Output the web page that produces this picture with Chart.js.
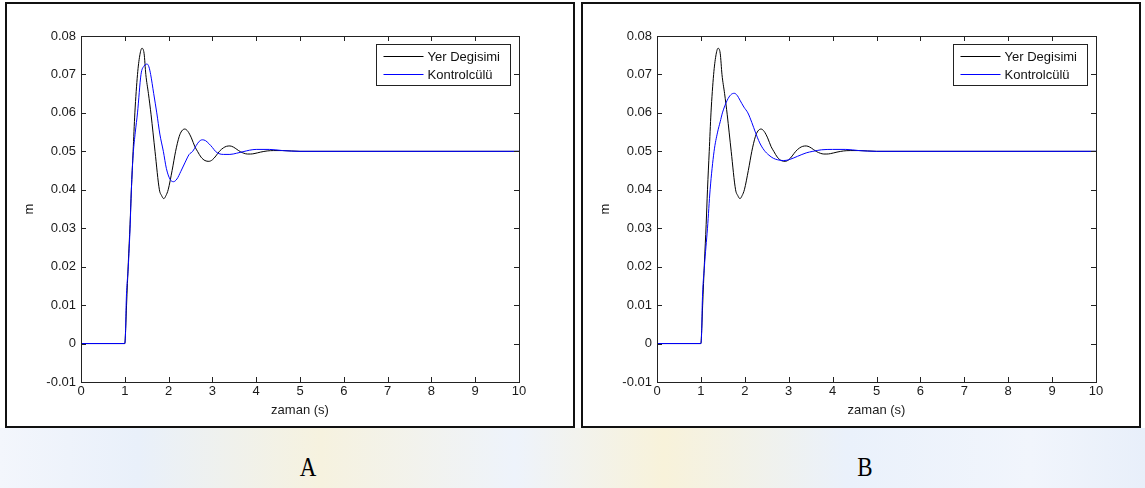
<!DOCTYPE html>
<html>
<head>
<meta charset="utf-8">
<script src="https://cdn.jsdelivr.net/npm/chart.js@4.4.0/dist/chart.umd.min.js"></script>
<style>
	html, body { margin: 0; padding: 0; }
	body {
		width: 1145px;
		height: 488px;
		position: relative;
		overflow: hidden;
		background: #ffffff;
	}
	#backdrop {
		position: absolute;
		left: 0; top: 428px; width: 1145px; height: 60px;
		background: linear-gradient(90deg, #f3f6fc 0%, #e9f0fa 12%, #f6f2df 28%, #eef3fb 45%, #f8f2da 58%, #eaf1fb 74%, #f1f5fc 90%, #e8effa 100%);
	}
	.panel {
		position: absolute;
		top: 2px;
		height: 426px;
		border: 2px solid #111;
		box-sizing: border-box;
		background: #fff;
	}
	#panel-a { left: 5px; width: 570px; }
	#panel-b { left: 581px; width: 560px; }
	.panel .wrap { position: relative; width: 100%; height: 100%; }
	.caption {
		position: absolute;
		top: 451px;
		width: 60px;
		text-align: center;
		font-family: 'Liberation Serif', 'DejaVu Serif', serif;
		font-size: 28px;
		color: #000;
		transform: scaleX(0.82);
	}
	#cap-a { left: 278px; }
	#cap-b { left: 835px; }
</style>
</head>
<body>
<div id="backdrop"></div>
<div class="panel" id="panel-a"><div class="wrap"><canvas id="chart-a"></canvas></div></div>
<div class="panel" id="panel-b"><div class="wrap"><canvas id="chart-b"></canvas></div></div>
<div class="caption" id="cap-a">A</div>
<div class="caption" id="cap-b">B</div>
<script>
// zaman (s) / m
var yerTimes = [0, 1.0, 1.02, 1.04, 1.08, 1.12, 1.15, 1.19, 1.23, 1.29, 1.34, 1.39, 1.44, 1.48, 1.54, 1.60, 1.69, 1.79, 1.84, 1.89, 1.94, 1.99, 2.08, 2.16, 2.24, 2.30, 2.37, 2.44, 2.52, 2.60, 2.66, 2.74, 2.83, 2.92, 3.0, 3.08, 3.16, 3.25, 3.32, 3.40, 3.48, 3.56, 3.64, 3.72, 3.80, 3.87, 3.95, 4.1, 4.25, 4.4, 4.6, 5.0, 10];
var yerValues = [0, 0, 0.004, 0.010, 0.021, 0.031, 0.040, 0.050, 0.060, 0.070, 0.0748, 0.0768, 0.0755, 0.070, 0.065, 0.0595, 0.050, 0.040, 0.0385, 0.0377, 0.0385, 0.040, 0.045, 0.050, 0.0538, 0.0553, 0.0558, 0.0552, 0.0535, 0.0512, 0.050, 0.0485, 0.0476, 0.0474, 0.0478, 0.0488, 0.0500, 0.0509, 0.0513, 0.0514, 0.0511, 0.0505, 0.0499, 0.0495, 0.0493, 0.0493, 0.0494, 0.0498, 0.0501, 0.0502, 0.0502, 0.0500, 0.0500];

var kontrolTimesA = [0, 1.0, 1.02, 1.03, 1.08, 1.12, 1.15, 1.19, 1.24, 1.29, 1.37, 1.44, 1.51, 1.55, 1.59, 1.66, 1.73, 1.80, 1.88, 1.95, 2.03, 2.11, 2.19, 2.28, 2.38, 2.47, 2.55, 2.63, 2.70, 2.77, 2.84, 2.92, 3.0, 3.07, 3.15, 3.25, 3.40, 3.55, 3.70, 3.85, 4.0, 4.3, 4.6, 5.0, 10];
var kontrolValuesA = [0, 0, 0.004, 0.010, 0.020, 0.030, 0.040, 0.049, 0.055, 0.060, 0.070, 0.0722, 0.0727, 0.0720, 0.070, 0.065, 0.060, 0.0545, 0.050, 0.0455, 0.0428, 0.0421, 0.0428, 0.0448, 0.0472, 0.0492, 0.050, 0.0515, 0.0526, 0.0530, 0.0528, 0.0520, 0.0510, 0.0500, 0.0494, 0.0492, 0.0492, 0.0495, 0.0499, 0.0503, 0.0505, 0.0505, 0.0502, 0.0500, 0.0500];

var kontrolTimesB = [0, 1.0, 1.02, 1.03, 1.08, 1.15, 1.21, 1.30, 1.38, 1.44, 1.49, 1.60, 1.68, 1.76, 1.83, 1.89, 1.98, 2.07, 2.16, 2.24, 2.34, 2.44, 2.55, 2.65, 2.75, 2.88, 3.0, 3.2, 3.4, 3.55, 3.75, 4.0, 4.3, 4.6, 5.0, 10];
var kontrolValuesB = [0, 0, 0.004, 0.010, 0.020, 0.030, 0.040, 0.050, 0.055, 0.0577, 0.060, 0.0633, 0.0647, 0.0651, 0.0645, 0.0633, 0.0615, 0.060, 0.0575, 0.055, 0.0522, 0.0503, 0.0490, 0.0482, 0.0478, 0.0476, 0.0478, 0.0487, 0.0496, 0.0500, 0.0504, 0.0505, 0.0505, 0.0502, 0.0500, 0.0500];

var seriesNames = ['Yer Degisimi', 'Kontrolcülü'];
var seriesColors = ['#000000', '#0000ff'];
var xTicks = [0, 1, 2, 3, 4, 5, 6, 7, 8, 9, 10];
var yTicks = [-0.01, 0, 0.01, 0.02, 0.03, 0.04, 0.05, 0.06, 0.07, 0.08];
var xTitle = 'zaman (s)';
var yTitle = 'm';

var fontFamily = "'Liberation Sans', Arial, Helvetica, sans-serif";
var fontSize = 13;

function toPoints(times, values) {
	return times.map(function(t, i) { return { x: t, y: values[i] }; });
}

// matlab style box, inward ticks and legend inside the axes
var matlabBox = {
	id: 'matlabBox',
	afterDraw: function(chart) {
		var ctx = chart.ctx;
		var a = chart.chartArea;
		var xs = chart.scales.x;
		var ys = chart.scales.y;
		var tl = 5;
		ctx.save();
		ctx.strokeStyle = '#222';
		ctx.lineWidth = 1;
		ctx.strokeRect(Math.round(a.left) + 0.5, Math.round(a.top) + 0.5, Math.round(a.right - a.left), Math.round(a.bottom - a.top));
		ctx.beginPath();
		xTicks.forEach(function(v) {
			var px = Math.round(xs.getPixelForValue(v)) + 0.5;
			ctx.moveTo(px, a.bottom); ctx.lineTo(px, a.bottom - tl);
			ctx.moveTo(px, a.top); ctx.lineTo(px, a.top + tl);
		});
		yTicks.forEach(function(v) {
			var py = Math.round(ys.getPixelForValue(v)) + 0.5;
			ctx.moveTo(a.left, py); ctx.lineTo(a.left + tl, py);
			ctx.moveTo(a.right, py); ctx.lineTo(a.right - tl, py);
		});
		ctx.stroke();

		// legend
		var w = 134, h = 41;
		var lx = Math.round(a.right - 9 - w) + 0.5;
		var ly = Math.round(a.top + 8) + 0.5;
		ctx.fillStyle = '#fff';
		ctx.fillRect(lx, ly, w, h);
		ctx.strokeStyle = '#222';
		ctx.strokeRect(lx, ly, w, h);
		ctx.font = fontSize + 'px ' + fontFamily;
		ctx.textBaseline = 'middle';
		ctx.textAlign = 'left';
		chart.data.datasets.forEach(function(ds, i) {
			var ry = Math.round(ly + 11 + i * 18.5) + 0.5;
			ctx.strokeStyle = ds.borderColor;
			ctx.beginPath();
			ctx.moveTo(lx + 7, ry);
			ctx.lineTo(lx + 47, ry);
			ctx.stroke();
			ctx.fillStyle = '#111';
			ctx.fillText(ds.label, lx + 51, ry + 1);
		});
		ctx.restore();
	}
};

function makeConfig(kTimes, kValues, rightPad) {
	return {
		type: 'line',
		data: {
			datasets: [
				{
					label: seriesNames[0],
					data: toPoints(yerTimes, yerValues),
					borderColor: seriesColors[0],
					borderWidth: 1,
					pointRadius: 0,
					cubicInterpolationMode: 'monotone',
					order: 2
				},
				{
					label: seriesNames[1],
					data: toPoints(kTimes, kValues),
					borderColor: seriesColors[1],
					borderWidth: 1,
					pointRadius: 0,
					cubicInterpolationMode: 'monotone',
					order: 1
				}
			]
		},
		options: {
			responsive: true,
			maintainAspectRatio: false,
			animation: false,
			events: [],
			layout: { padding: { top: 32, right: rightPad, left: 0, bottom: 0 } },
			plugins: {
				legend: { display: false },
				tooltip: { enabled: false },
				title: { display: false }
			},
			scales: {
				x: {
					type: 'linear',
					min: 0,
					max: 10,
					grid: { display: false, drawTicks: false },
					border: { display: false },
					afterFit: function(s) { s.height = 44; },
					afterBuildTicks: function(s) { s.ticks = xTicks.map(function(v) { return { value: v }; }); },
					ticks: {
						padding: 2,
						maxRotation: 0,
						autoSkip: false,
						color: '#1a1a1a',
						font: { family: fontFamily, size: fontSize },
						callback: function(v) { return String(v); }
					},
					title: {
						display: true,
						text: xTitle,
						color: '#1a1a1a',
						font: { family: fontFamily, size: fontSize },
						padding: { top: 0, bottom: 8 }
					}
				},
				y: {
					type: 'linear',
					min: -0.01,
					max: 0.08,
					grid: { display: false, drawTicks: false },
					border: { display: false },
					afterFit: function(s) { s.width = 74; },
					afterBuildTicks: function(s) { s.ticks = yTicks.map(function(v) { return { value: v }; }); },
					ticks: {
						padding: 5,
						autoSkip: false,
						color: '#1a1a1a',
						font: { family: fontFamily, size: fontSize },
						callback: function(v) { return String(Math.round(v * 100) / 100); }
					},
					title: {
						display: true,
						text: yTitle,
						color: '#1a1a1a',
						font: { family: fontFamily, size: fontSize },
						padding: { top: 15, bottom: 0 }
					}
				}
			}
		},
		plugins: [matlabBox]
	};
}

var chartA = new Chart(document.getElementById('chart-a').getContext('2d'), makeConfig(kontrolTimesA, kontrolValuesA, 54));
var chartB = new Chart(document.getElementById('chart-b').getContext('2d'), makeConfig(kontrolTimesB, kontrolValuesB, 43));
</script>
</body>
</html>
